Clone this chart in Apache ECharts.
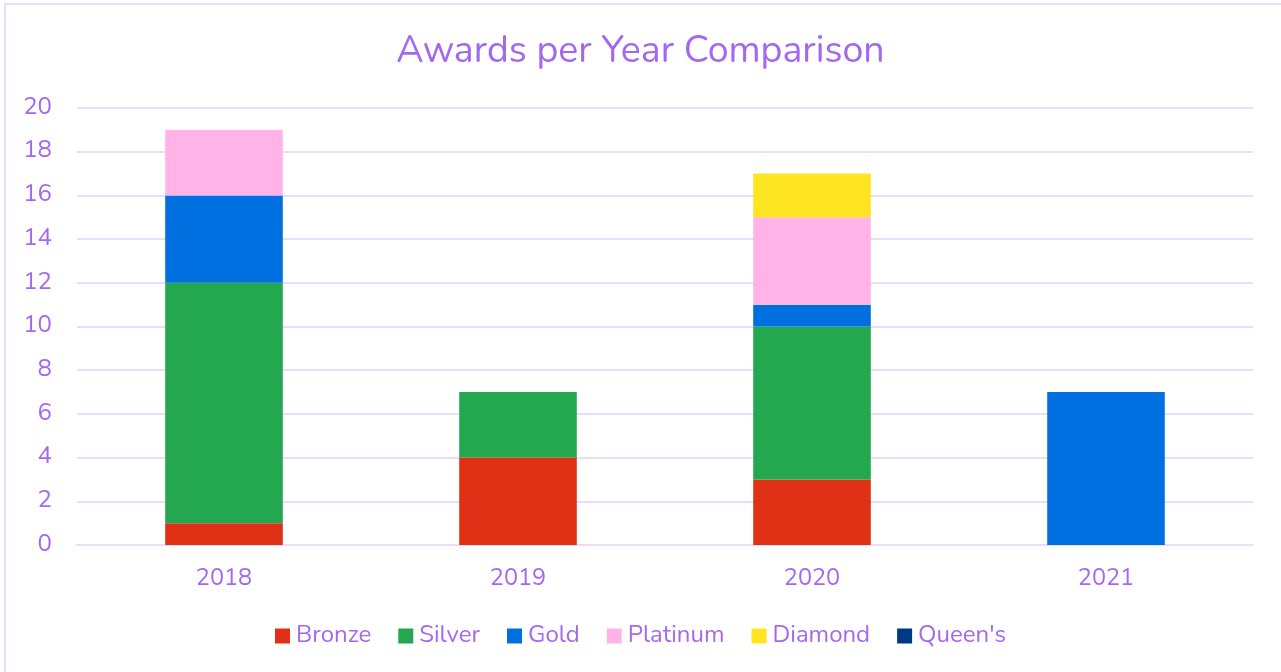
<!DOCTYPE html>
<html><head><meta charset="utf-8">
<script src="https://cdn.jsdelivr.net/npm/echarts@6/dist/echarts.min.js"></script>
<style>html,body{margin:0;padding:0;background:#fff;overflow:hidden}#c{width:1281px;height:672px}</style>
</head><body><div id="c"></div>
<script>
const years = ['2018','2019','2020','2021'];
const bronze = [1,4,3,0];
const silver = [11,3,7,0];
const gold = [4,0,1,7];
const platinum = [3,0,4,0];
const diamond = [0,0,2,0];
const queens = [0,0,0,0];
const seriesNames = ['Bronze','Silver','Gold','Platinum','Diamond',"Queen's"];
const seriesData = [bronze,silver,gold,platinum,diamond,queens];
const colors = ['#e03016','#23a84f','#0070e0','#ffb3e6','#ffe422','#003a86'];
const purple = '#a468f0';
const font = 'Nunito, "Noto Sans", sans-serif';
const chart = echarts.init(document.getElementById('c'));
chart.setOption({
  animation:false,
  color: colors,
  title:{text:'Awards per Year Comparison',left:'center',top:29,textStyle:{color:purple,fontSize:37.5,fontWeight:'normal',fontFamily:font}},
  grid:{left:77,right:28,top:108,bottom:127},
  legend:{bottom:19,left:'center',itemWidth:15,itemHeight:15,itemGap:27,icon:'rect',textStyle:{color:purple,fontSize:24,fontFamily:font,padding:[0,0,0,1]},data:seriesNames},
  xAxis:{type:'category',data:years,axisLine:{lineStyle:{color:'#ebdcfb',width:2}},axisTick:{show:false},axisLabel:{color:purple,fontSize:23.5,margin:22,fontFamily:font}},
  yAxis:{type:'value',min:0,max:20,interval:2,axisLine:{show:false},axisTick:{show:false},splitLine:{lineStyle:{color:'#ebdcfb',width:2}},axisLabel:{color:purple,fontSize:24,margin:25,fontFamily:font}},
  graphic:[{type:'rect',shape:{x:5,y:4,width:1400,height:800},style:{fill:'none',stroke:'#ebdcfb',lineWidth:2},silent:true}],
  series: seriesNames.map((n,i)=>({name:n,type:'bar',stack:'a',barWidth:'40%',data:seriesData[i].map(v=>v===0?null:v)}))
});
</script></body></html>
